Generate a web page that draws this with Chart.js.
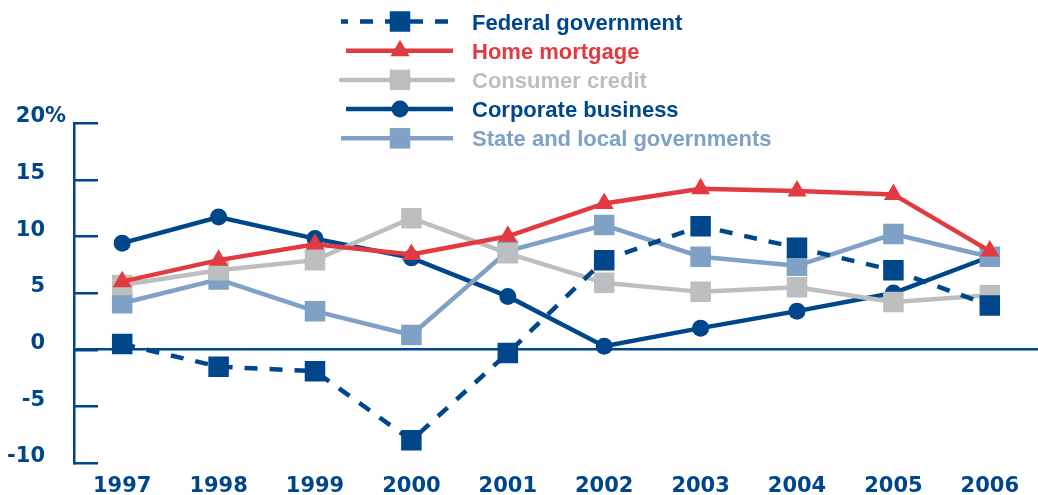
<!DOCTYPE html>
<html lang="en">
<head>
  <meta charset="UTF-8" />
  <title>Debt growth by sector</title>
  <script src="https://cdn.jsdelivr.net/npm/chart.js"></script>
  <style>
    html, body {
      margin: 0;
      background: #fff;
      overflow: hidden;
    }
    #wrap {
      width: 1038px;
      height: 495px;
    }
    canvas {
      display: block;
    }
  </style>
</head>
<body>
  <div id="wrap">
    <canvas id="debtChart" width="1038" height="495"></canvas>
  </div>

  <script>
    // yearly growth, percent
    const years = ["1997", "1998", "1999", "2000", "2001", "2002", "2003", "2004", "2005", "2006"];
    const federalGov = [0.5, -1.5, -1.9, -8.0, -0.3, 7.9, 10.9, 9.0, 7.0, 3.9];
    const homeMortgage = [6.0, 7.9, 9.3, 8.4, 10.0, 12.9, 14.2, 14.0, 13.7, 8.7];
    const consumerCredit = [5.7, 7.0, 7.9, 11.6, 8.5, 5.9, 5.1, 5.5, 4.2, 4.8];
    const corporateBiz = [9.4, 11.7, 9.8, 8.1, 4.7, 0.3, 1.9, 3.4, 5.0, 8.2];
    const stateLocal = [4.1, 6.2, 3.4, 1.3, 8.7, 11.0, 8.2, 7.4, 10.2, 8.2];
    const seriesNames = ["Federal government", "Home mortgage", "Consumer credit", "Corporate business", "State and local governments"];

    const navy = "#00468a";
    const red = "#e23a40";
    const grey = "#bdbec0";
    const lightBlue = "#7ea1c5";
    const labelGap = 29; // space between y labels and the axis line

    function series(label, data, color, style, radius, order, dash) {
      return {
        label: label,
        data: data,
        borderColor: color,
        backgroundColor: color,
        borderWidth: 4.5,
        borderDash: dash || [],
        pointStyle: style,
        pointRadius: radius,
        pointHoverRadius: radius,
        pointBorderWidth: 0,
        pointBackgroundColor: color,
        tension: 0,
        order: order
      };
    }

    // inward tick marks on the value axis and the "%" after the top label
    const axisTicks = {
      id: "axisTicks",
      beforeDatasetsDraw(chart) {
        const ys = chart.scales.y;
        const ctx = chart.ctx;
        ctx.save();
        ctx.strokeStyle = navy;
        ctx.lineWidth = 2.5;
        ys.ticks.forEach(t => {
          const py = Math.round(ys.getPixelForValue(t.value)) + 0.25;
          ctx.beginPath();
          ctx.moveTo(ys.right, py);
          ctx.lineTo(ys.right + 24, py);
          ctx.stroke();
        });
        ctx.fillStyle = navy;
        ctx.font = "bold 21px 'DejaVu Sans'";
        ctx.textAlign = "left";
        ctx.textBaseline = "middle";
        ctx.fillText("%", ys.right - labelGap, ys.getPixelForValue(ys.max) + ys.options.ticks.labelOffset);
        ctx.restore();
      }
    };

    function drawMarker(ctx, style, r, x, y) {
      ctx.beginPath();
      if (style === "rect") {
        const s = Math.SQRT1_2 * r;
        ctx.rect(x - s, y - s, 2 * s, 2 * s);
      } else if (style === "triangle") {
        ctx.moveTo(x, y - r);
        ctx.lineTo(x + r * 0.866, y + r * 0.5);
        ctx.lineTo(x - r * 0.866, y + r * 0.5);
        ctx.closePath();
      } else {
        ctx.arc(x, y, r, 0, Math.PI * 2);
      }
      ctx.fill();
    }

    // stacked legend: line sample with marker, then the coloured name
    const stackedLegend = {
      id: "stackedLegend",
      afterDraw(chart) {
        const ctx = chart.ctx;
        chart.data.datasets.forEach((ds, i) => {
          const y = 21.5 + i * 29.2;
          ctx.save();
          ctx.strokeStyle = ds.borderColor;
          ctx.fillStyle = ds.borderColor;
          ctx.lineWidth = ds.borderWidth;
          ctx.lineCap = ds.borderCapStyle || "butt";
          ctx.setLineDash(ds.borderDash);
          ctx.lineDashOffset = 6;
          ctx.beginPath();
          ctx.moveTo(i === 1 || i === 3 ? 346 : 341, y);
          ctx.lineTo(453, y);
          ctx.stroke();
          ctx.setLineDash([]);
          drawMarker(ctx, ds.pointStyle, ds.pointRadius, 400, y);
          ctx.font = "bold 22px 'Liberation Sans'";
          ctx.textAlign = "left";
          ctx.textBaseline = "alphabetic";
          ctx.fillText(ds.label, 472, y + 8);
          ctx.restore();
        });
      }
    };

    const fed = series(seriesNames[0], federalGov, navy, "rect", 14.5, 1, [13, 12]);
    const home = series(seriesNames[1], homeMortgage, red, "triangle", 11, 0);
    const consumer = series(seriesNames[2], consumerCredit, grey, "rect", 14.5, 2);
    consumer.borderCapStyle = "round";
    const corp = series(seriesNames[3], corporateBiz, navy, "circle", 8.5, 4);
    const state = series(seriesNames[4], stateLocal, lightBlue, "rect", 14.5, 3);

    const ctx = document.getElementById("debtChart").getContext("2d");
    new Chart(ctx, {
      type: "line",
      data: {
        labels: years,
        datasets: [fed, home, consumer, corp, state]
      },
      options: {
        responsive: false,
        animation: false,
        devicePixelRatio: 1,
        layout: {
          autoPadding: false,
          padding: { top: 123, left: 0, right: 0, bottom: 0 }
        },
        plugins: {
          legend: { display: false },
          tooltip: { enabled: false }
        },
        scales: {
          x: {
            type: "category",
            offset: true,
            grid: { display: false },
            border: { display: false },
            ticks: {
              color: navy,
              font: { family: "'DejaVu Sans'", size: 21, weight: "bold" },
              padding: 3,
              maxRotation: 0,
              autoSkip: false
            },
            afterFit(scale) { scale.height = 32; }
          },
          y: {
            min: -10,
            max: 20,
            grid: {
              drawTicks: true,
              tickLength: labelGap,
              tickColor: "rgba(0,0,0,0)",
              lineWidth: 2.5,
              color: c => (c.tick && c.tick.value === 0 ? navy : "rgba(0,0,0,0)")
            },
            border: { display: true, color: navy, width: 2.5 },
            ticks: {
              stepSize: 5,
              color: navy,
              padding: 0,
              labelOffset: -6,
              font: { family: "'DejaVu Sans'", size: 21, weight: "bold" }
            },
            afterFit(scale) { scale.width = 74; }
          }
        }
      },
      plugins: [axisTicks, stackedLegend]
    });
  </script>
</body>
</html>
